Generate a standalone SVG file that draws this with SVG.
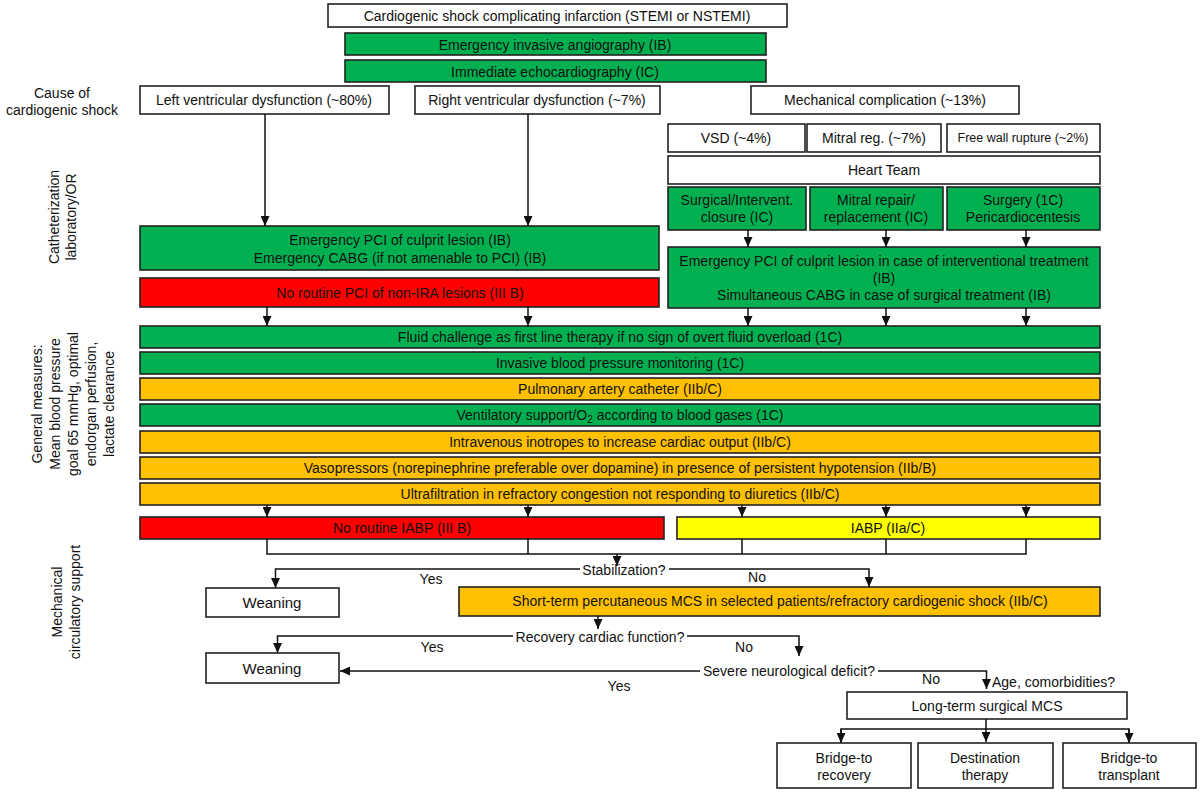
<svg xmlns="http://www.w3.org/2000/svg" width="1200" height="793" viewBox="0 0 1200 793">
<style>
text{font-family:"Liberation Sans",Arial,sans-serif;font-size:14px;fill:#111;text-anchor:middle}
.b{stroke:#222;stroke-width:1.6}
.w{fill:#fff}.g{fill:#00B050}.o{fill:#FFC000}.r{fill:#FF0000}.y{fill:#FFFF00}
.s{font-size:12.5px}.l{font-size:15px}
#connectors line,#connectors path{stroke:#111;stroke-width:1.5;fill:none}
</style>
<defs>
<marker id="ah" viewBox="0 0 10 10" refX="10" refY="5" markerWidth="10" markerHeight="9" markerUnits="userSpaceOnUse" orient="auto" preserveAspectRatio="none">
<path d="M0,0 L10,5 L0,10 z" fill="#111"/>
</marker>
</defs>
<rect width="1200" height="793" fill="#fff"/>

<!-- side labels -->
<g id="label-cause">
<text x="62" y="98">Cause of</text>
<text x="62" y="115">cardiogenic shock</text>
</g>
<g id="label-cath" transform="translate(0,217) rotate(-90)">
<text x="0" y="59">Catheterization</text>
<text x="0" y="76">laboratory/OR</text>
</g>
<g id="label-general" transform="translate(0,404) rotate(-90)">
<text x="0" y="42">General measures:</text>
<text x="0" y="60">Mean blood pressure</text>
<text x="0" y="78">goal 65 mmHg,  optimal</text>
<text x="0" y="96">endorgan perfusion,</text>
<text x="0" y="114">lactate clearance</text>
</g>
<g id="label-mcs" transform="translate(0,602) rotate(-90)">
<text x="0" y="62">Mechanical</text>
<text x="0" y="80">circulatory support</text>
</g>

<!-- nodes -->
<g id="n-top"><rect class="b w" x="328" y="4" width="459" height="23"/><text x="557" y="21">Cardiogenic shock complicating infarction (STEMI or NSTEMI)</text></g>
<g id="n-angio"><rect class="b g" x="345" y="33" width="421" height="22"/><text x="555" y="50">Emergency invasive angiography (IB)</text></g>
<g id="n-echo"><rect class="b g" x="345" y="60" width="421" height="22"/><text x="555" y="77">Immediate echocardiography (IC)</text></g>
<g id="n-lv"><rect class="b w" x="140" y="86" width="249" height="28"/><text x="264" y="105">Left ventricular dysfunction (~80%)</text></g>
<g id="n-rv"><rect class="b w" x="415" y="86" width="245" height="28"/><text x="537" y="105">Right ventricular dysfunction (~7%)</text></g>
<g id="n-mech"><rect class="b w" x="751" y="86" width="268" height="28"/><text x="885" y="105">Mechanical complication (~13%)</text></g>
<g id="n-vsd"><rect class="b w" x="668" y="124" width="137" height="28"/><text x="736" y="143">VSD (~4%)</text></g>
<g id="n-mr"><rect class="b w" x="807" y="124" width="134" height="28"/><text x="874" y="143">Mitral reg. (~7%)</text></g>
<g id="n-fwr"><rect class="b w" x="947" y="124" width="153" height="28"/><text class="s" x="1023" y="142">Free wall rupture (~2%)</text></g>
<g id="n-heart"><rect class="b w" x="668" y="156" width="432" height="28"/><text x="884" y="175">Heart Team</text></g>
<g id="n-closure"><rect class="b g" x="668" y="187" width="138" height="43"/><text x="737" y="205">Surgical/Intervent.</text><text x="737" y="222">closure (IC)</text></g>
<g id="n-mrepair"><rect class="b g" x="810" y="187" width="133" height="43"/><text x="876" y="205">Mitral repair/</text><text x="876" y="222">replacement (IC)</text></g>
<g id="n-surgery"><rect class="b g" x="947" y="187" width="153" height="43"/><text x="1023" y="205">Surgery (1C)</text><text x="1023" y="222">Pericardiocentesis</text></g>
<g id="n-pci-lv"><rect class="b g" x="140" y="226" width="519" height="44"/><text x="400" y="245">Emergency PCI of culprit lesion (IB)</text><text x="400" y="263">Emergency CABG (if not amenable to PCI) (IB)</text></g>
<g id="n-pci-mech"><rect class="b g" x="668" y="247" width="432" height="61"/><text x="884" y="266">Emergency PCI of culprit lesion in case of interventional treatment</text><text x="884" y="283">(IB)</text><text x="884" y="300">Simultaneous CABG in case of surgical treatment (IB)</text></g>
<g id="n-nopci"><rect class="b r" x="140" y="278" width="519" height="29"/><text x="400" y="298">No routine PCI of non-IRA lesions (III B)</text></g>
<g id="n-fluid"><rect class="b g" x="140" y="326" width="960" height="22"/><text x="620" y="342">Fluid challenge as first line therapy if no sign of overt fluid overload (1C)</text></g>
<g id="n-bp"><rect class="b g" x="140" y="352" width="960" height="22"/><text x="620" y="368">Invasive blood pressure monitoring (1C)</text></g>
<g id="n-pac"><rect class="b o" x="140" y="378" width="960" height="22"/><text x="620" y="394">Pulmonary artery catheter (IIb/C)</text></g>
<g id="n-vent"><rect class="b g" x="140" y="404" width="960" height="22"/><text x="620" y="420">Ventilatory support/O<tspan font-size="10" dy="3">2</tspan><tspan dy="-3"> according to blood gases (1C)</tspan></text></g>
<g id="n-ino"><rect class="b o" x="140" y="431" width="960" height="22"/><text x="620" y="447">Intravenous inotropes to increase cardiac output (IIb/C)</text></g>
<g id="n-vaso"><rect class="b o" x="140" y="457" width="960" height="22"/><text x="620" y="473">Vasopressors (norepinephrine preferable over dopamine) in presence of persistent hypotension (IIb/B)</text></g>
<g id="n-uf"><rect class="b o" x="140" y="483" width="960" height="22"/><text x="620" y="499">Ultrafiltration in refractory congestion not responding to diuretics (IIb/C)</text></g>
<g id="n-noiabp"><rect class="b r" x="140" y="517" width="524" height="22"/><text x="402" y="533">No routine IABP (III B)</text></g>
<g id="n-iabp"><rect class="b y" x="677" y="517" width="423" height="22"/><text x="888" y="533">IABP (IIa/C)</text></g>
<g id="n-stab"><text x="624" y="575">Stabilization?</text></g>
<g id="n-wean1"><rect class="b w" x="206" y="588" width="133" height="29"/><text class="l" x="272" y="608">Weaning</text></g>
<g id="n-short"><rect class="b o" x="459" y="587" width="641" height="29"/><text x="780" y="606">Short-term percutaneous MCS in selected patients/refractory cardiogenic shock (IIb/C)</text></g>
<g id="n-recov"><text x="600" y="642">Recovery cardiac function?</text></g>
<g id="n-wean2"><rect class="b w" x="206" y="653" width="133" height="30"/><text class="l" x="272" y="674">Weaning</text></g>
<g id="n-neuro"><text x="789" y="676">Severe neurological deficit?</text></g>
<g id="n-age"><text x="992" y="687" style="text-anchor:start">Age, comorbidities?</text></g>
<g id="n-longterm"><rect class="b w" x="847" y="692" width="280" height="27"/><text x="987" y="711">Long-term surgical MCS</text></g>
<g id="n-btr"><rect class="b w" x="777" y="743" width="134" height="45"/><text x="844" y="763">Bridge-to</text><text x="844" y="780">recovery</text></g>
<g id="n-dt"><rect class="b w" x="918" y="743" width="135" height="45"/><text x="985" y="763">Destination</text><text x="985" y="780">therapy</text></g>
<g id="n-btt"><rect class="b w" x="1063" y="743" width="133" height="45"/><text x="1129" y="763">Bridge-to</text><text x="1129" y="780">transplant</text></g>

<!-- connector labels -->
<g id="edge-labels">
<text x="431" y="584">Yes</text>
<text x="757" y="582">No</text>
<text x="432" y="652">Yes</text>
<text x="744" y="652">No</text>
<text x="619" y="691">Yes</text>
<text x="931" y="684">No</text>
</g>

<!-- connectors -->
<g id="connectors">
<line x1="265" y1="114" x2="265" y2="226" marker-end="url(#ah)"/>
<line x1="528" y1="114" x2="528" y2="226" marker-end="url(#ah)"/>
<line x1="748" y1="230" x2="748" y2="247" marker-end="url(#ah)"/>
<line x1="886" y1="230" x2="886" y2="247" marker-end="url(#ah)"/>
<line x1="1026" y1="230" x2="1026" y2="247" marker-end="url(#ah)"/>
<line x1="267" y1="307" x2="267" y2="326" marker-end="url(#ah)"/>
<line x1="528" y1="307" x2="528" y2="326" marker-end="url(#ah)"/>
<line x1="748" y1="308" x2="748" y2="326" marker-end="url(#ah)"/>
<line x1="886" y1="308" x2="886" y2="326" marker-end="url(#ah)"/>
<line x1="1026" y1="308" x2="1026" y2="326" marker-end="url(#ah)"/>
<line x1="267" y1="505" x2="267" y2="517" marker-end="url(#ah)"/>
<line x1="528" y1="505" x2="528" y2="517" marker-end="url(#ah)"/>
<line x1="742" y1="505" x2="742" y2="517" marker-end="url(#ah)"/>
<line x1="886" y1="505" x2="886" y2="517" marker-end="url(#ah)"/>
<line x1="1026" y1="505" x2="1026" y2="517" marker-end="url(#ah)"/>
<path d="M267,539 V554 H1026 V539 M528,539 V554 M742,539 V554 M886,539 V554"/>
<line x1="617" y1="554" x2="617" y2="566" marker-end="url(#ah)"/>
<path d="M580,569 H275.5 V588" marker-end="url(#ah)"/>
<path d="M669,569 H869 V587" marker-end="url(#ah)"/>
<line x1="598" y1="616" x2="598" y2="629" marker-end="url(#ah)"/>
<path d="M513,636 H277.5 V653" marker-end="url(#ah)"/>
<path d="M687,636 H799 V656" marker-end="url(#ah)"/>
<line x1="700" y1="671" x2="340" y2="671" marker-end="url(#ah)"/>
<path d="M878,671 H986.5 V689" marker-end="url(#ah)"/>
<line x1="986" y1="719" x2="986" y2="742" marker-end="url(#ah)"/>
<path d="M841,742 V729 H1129 V742"/>
<line x1="841" y1="729" x2="841" y2="743" marker-end="url(#ah)"/>
<line x1="1129" y1="729" x2="1129" y2="743" marker-end="url(#ah)"/>
</g>
</svg>
